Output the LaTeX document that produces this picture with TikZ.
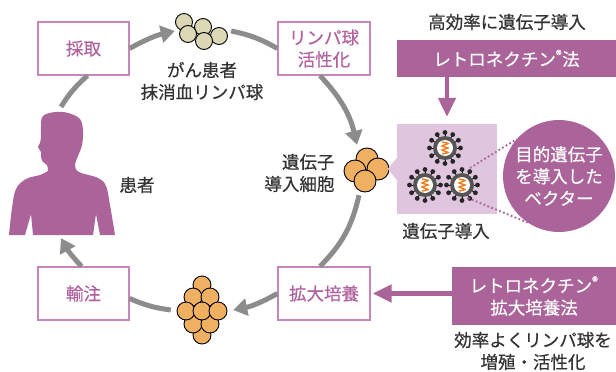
\documentclass[tikz,border=0pt]{standalone}
\usepackage{fontspec}
\setmainfont{Noto Sans CJK JP}[FakeBold=0.5]
\usepackage{xcolor}
\usetikzlibrary{arrows.meta}

\definecolor{cycgray}{HTML}{8C8C8C}
\definecolor{boxline}{HTML}{C984B9}
\definecolor{boxtext}{HTML}{B2629F}
\definecolor{retro}{HTML}{AB6499}
\definecolor{retrolight}{HTML}{DFC5DD}
\definecolor{cellorange}{HTML}{F0B062}
\definecolor{cellbeige}{HTML}{DCD7B5}
\definecolor{capsid}{HTML}{555555}
\definecolor{geneorange}{HTML}{F07D1E}
\definecolor{ink}{HTML}{333333}

\tikzset{
  stagebox/.style={draw=boxline, line width=1.2pt, fill=white, text=boxtext,
    minimum width=91pt, minimum height=53pt, inner sep=0pt, align=center},
  loopline/.style={draw=cycgray, line width=5pt},
  looparrow/.style={loopline, -{Triangle[width=17pt,length=14pt]}},
  retroarrow/.style={draw=retro, line width=4.5pt, -{Triangle[width=17pt,length=19pt]}},
  banner/.style={fill=retro, text=white, inner sep=0pt, align=center},
  cell/.style={draw=black, line width=0.9pt},
  holder/.style={inner sep=0pt},
}

% one vector particle: spiky capsid with the gene inside
\newcommand{\virion}[1]{%
  \begin{scope}[shift={#1}]
    \foreach \a in {0,30,...,330}{
      \draw[black, line width=0.8pt] (\a:11) -- (\a:15.5);
      \fill[black!85] (\a:15.5) circle (2.4pt);
    }
    \fill[capsid] (0,0) circle (12pt);
    \fill[white] (0,0) circle (8pt);
    \draw[geneorange, line width=1.4pt] plot[smooth] coordinates
      {(-3,-6) (3,-4.5) (-3,-2) (3,0) (-3,2) (3,4.5) (-3,6)};
  \end{scope}}

\begin{document}
\begin{tikzpicture}[x=1pt, y=-1pt, font=\fontsize{17.5pt}{22pt}\selectfont,
  every node/.style={text=ink}]
\useasboundingbox (0,0) rectangle (616,372);

% patient
\fill[retro] (9,235) -- plot[smooth, tension=0.6] coordinates
  {(9,235) (12,208) (16,189) (26,179) (40,175) (48,171)}
  -- plot[smooth, tension=0.6] coordinates
  {(48,171) (47,165) (43,162) (41,157) (41,152) (38,147) (40,143) (41,136)
   (41,126) (43,116) (55,112) (68,113) (80,119) (83,131) (82,145) (78,156)
   (75,165) (79,172) (98,178) (106,186) (110,205) (115,235)}
  -- (100,235) -- (96,214) -- (93,235) -- (33,235) -- (31,214) -- (25,235) -- cycle;
\node[holder, minimum width=106pt, minimum height=131pt] (patient) at (61,172.5) {};
\node (patientlabel) at (137,185) {患者};

% stages
\node[stagebox] (saishu) at (83.5,48.5) {採取};
\node[stagebox, minimum width=92pt] (kassei) at (324,48.5) {リンパ球\\活性化};
\node[stagebox] (yuchu) at (83.5,293.5) {輸注};
\node[stagebox, minimum width=92pt] (kakudai) at (324,293.5) {拡大培養};

% cells
\node[holder, minimum width=56pt, minimum height=40pt] (blood) at (203,31) {};
\foreach \p in {(184,22),(203,27),(188,34),(219,36),(204,41)}
  \filldraw[cell, fill=cellbeige] \p circle (8.5pt);
\node[align=center] (bloodlabel) at (202,81) {がん患者\\抹消血リンパ球};

\node[holder, minimum width=46pt, minimum height=50pt] (tcell) at (367,170) {};
\foreach \p in {(367,159),(355,171),(378,169),(365,181)}
  \filldraw[cell, fill=cellorange] \p circle (11pt);
\node[align=right, anchor=east] (tcelllabel) at (338,173) {遺伝子\\導入細胞};

\node[holder, minimum width=62pt, minimum height=62pt] (grape) at (202,310) {};
\foreach \p in {(202,285),(193,297),(210,297),(202,335),(193,324),(210,324),
                (186,311),(202,311),(218,311)}
  \filldraw[cell, fill=cellorange] \p circle (9pt);

% the cycle
\draw[loopline] (patient.north) to[bend left=8] ([xshift=4]saishu.south);
\draw[looparrow] (saishu.east) to[bend left=8] (blood.west);
\draw[loopline] (blood.east) to[bend left=9] (kassei.west);
\draw[looparrow] ([xshift=-4]kassei.south) to[bend left=15] ([xshift=-10]tcell.north);
\draw[loopline] ([xshift=-8]tcell.south) to[bend left=16] ([xshift=-4]kakudai.north);
\draw[looparrow] (kakudai.west) to[bend left=9] (grape.east);
\draw[loopline] (grape.west) to[bend left=8] ([yshift=-5]yuchu.east);
\draw[looparrow] ([xshift=-2]yuchu.north) to[bend left=7] (patient.south);

% gene transfer
\node (hdr) at (507,22) {高効率に遺伝子導入};
\node[banner, minimum width=219pt, minimum height=37pt] (method) at (506.5,58.5)
  {レトロネクチン\textsuperscript{®}法};
\node[fill=retrolight, minimum width=100pt, minimum height=90pt, inner sep=0pt]
  (vecbox) at (447,169) {};
\fill[retrolight] ([yshift=11]vecbox.west) -- ([xshift=-9]vecbox.west)
  -- ([yshift=-11]vecbox.west) -- cycle;
\draw[retroarrow] (method.south -| vecbox.north) -- ([yshift=7]vecbox.north);

\virion{(445,148)}
\virion{(425,185)}
\virion{(462,185)}
\coordinate (vecR) at (462,185);
\node (veclabel) at (446,231) {遺伝子導入};

\node[circle, fill=retro, text=white, minimum size=112pt, inner sep=0pt, align=center]
  (callout) at (559,176) {目的遺伝子\\を導入した\\ベクター};
\draw[retro, line width=1.8pt, dash pattern=on 1.8pt off 2.4pt]
  ([shift={(8,-17)}]vecR) -- (callout.139);
\draw[retro, line width=1.8pt, dash pattern=on 1.8pt off 2.4pt]
  ([shift={(6,13)}]vecR) -- (callout.236);

% expansion
\node[banner, minimum width=164pt, minimum height=58pt] (culture) at (534,296)
  {レトロネクチン\textsuperscript{®}\\拡大培養法};
\draw[retroarrow] (culture.west |- kakudai.east) -- ([xshift=2]kakudai.east);
\node[align=center] (culturelabel) at (533,351) {効率よくリンパ球を\\増殖・活性化};
\end{tikzpicture}
\end{document}
